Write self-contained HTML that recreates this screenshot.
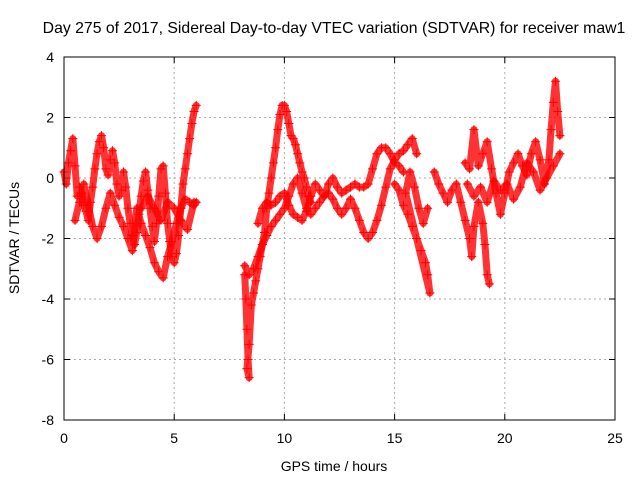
<!DOCTYPE html>
<html><head><meta charset="utf-8"><style>
body{margin:0;background:#fff}
svg text{font-family:"Liberation Sans",sans-serif;font-size:14px;fill:#000}
</style></head><body>
<svg id="c" width="640" height="480">
<text x="334" y="33" text-anchor="middle" style="font-size:15.8px">Day 275 of 2017, Sidereal Day-to-day VTEC variation (SDTVAR) for receiver maw1</text>
<text x="334" y="471" text-anchor="middle">GPS time / hours</text>
<text transform="translate(19,238) rotate(-90)" text-anchor="middle">SDTVAR / TECUs</text>
<g id="grid"></g><g id="marks"></g>
<rect x="64" y="57" width="551" height="363" fill="none" stroke="#000" stroke-width="1"/>
</svg>
<script>
const xTicks=[0,5,10,15,20,25];
const yTicks=[4,2,0,-2,-4,-6,-8];
const tA=[0,.1,.2,.3,.4,.5,.6,.7,.8,.9,1,1.1,1.2,1.3,1.4,1.5,1.6,1.7,1.8,1.9,2,2.1,2.2,2.3,2.4,2.5,2.6,2.7,2.8,2.9,3,3.1,3.2,3.3,3.4,3.5,3.6,3.7,3.8,3.9,4,4.1,4.2,4.3,4.4,4.5,4.6,4.7,4.8,4.9,5,5.1,5.2,5.3,5.4,5.5,5.6,5.7,5.8,5.9,6];
const vA=[.2,-.2,.5,.9,1.3,.4,-.6,-.3,-.5,-.9,-1.1,-1.4,-.8,-.3,.3,.8,1.2,1.4,1,.3,.1,.6,.9,.5,-.2,-.6,-.4,.2,-.3,-1,-1.5,-1.9,-2.2,-1.8,-1.2,-.6,-.1,.2,-.4,-1,-1.6,-2.1,-1.5,-.6,.3,.4,-.5,-1.5,-2.1,-2.6,-2.8,-2.5,-1.9,-1,-.2,.3,.8,1.3,1.8,2.2,2.4];
const tB=[.5,.7,.9,1.1,1.3,1.5,1.7,1.9,2.1,2.3,2.5,2.7,2.9,3.1,3.3,3.5,3.7,3.9,4.1,4.3,4.5,4.7,4.9,5.1,5.3,5.5,5.7,5.9,6];
const vB=[-1.4,-.8,-.2,-.9,-1.6,-2,-1.6,-1,-.5,-.9,-1.3,-1.6,-2,-2.4,-1,-1.5,-1.9,-2.3,-2.8,-3.1,-3.3,-2.6,-2.1,-1.5,-1,-.7,-.8,-.9,-.8];
const tC=[3.5,3.8,4.1,4.4,4.7,5,5.3,5.6,5.9];
const vC=[-1,-.6,-1,-1.4,-.8,-1,-1.4,-1.7,-.8];
const tD=[8.2,8.25,8.3,8.35,8.4,8.3,8.4,8.5,8.6,8.7,8.8,8.9,9,9.1,9.2,9.3,9.4,9.5,9.6,9.7,9.8,9.9,10,10.1,10.2,10.3,10.4,10.5,10.6,10.7,10.8,10.9,11,11.1,11.2];
const vD=[-3.2,-4,-5,-6,-6.6,-6.3,-5.5,-4.2,-3.8,-3.4,-3,-2.6,-2.2,-1.8,-1,-.5,0,.5,1,1.6,2.1,2.4,2.4,2.2,1.8,1.4,1.3,1.1,.8,.5,.2,0,-.3,-.6,-.8];
const tE=[8.2,8.4,8.6,8.8,9,9.2,9.4,9.6,9.8,10,10.2,10.4,10.6,10.8,11,11.2,11.4,11.6,11.8,12,12.2,12.4,12.6,12.8,13,13.2,13.4,13.6,13.8,14,14.2,14.4,14.6,14.8,15,15.2,15.4,15.6,15.8,16];
const vE=[-2.9,-3.2,-3,-2.6,-2.2,-1.9,-1.6,-1.4,-1.2,-1,-.6,-.2,0,-.5,-1,-1.2,-1,-.8,-.6,-.5,-.7,-1,-1.2,-1,-.7,-1,-1.4,-1.8,-2,-1.8,-1.4,-.9,-.3,.3,.6,.8,.9,1.1,1.3,.8];
const tF=[8.8,9,9.2,9.4,9.6,9.8,10,10.2,10.4,10.6,10.8,11,11.2,11.4,11.6,11.8,12,12.2,12.4,12.6,12.8,13,13.2,13.4,13.6,13.8,14,14.2,14.4,14.6,14.8,15,15.2,15.4];
const vF=[-1.5,-1,-.8,-.9,-.8,-.6,-.5,-.9,-1.2,-1.3,-1.4,-1.1,-.6,-.2,-.4,-.6,-.2,0,-.3,-.5,-.4,-.3,-.2,-.3,-.3,-.2,.3,.8,1,1,.8,.5,.4,.2];
const tG=[15,15.2,15.4,15.6,15.8,16,16.2,16.4,16.5,16.6,15.5,15.7,15.9,16.1,16.3,16.5];
const vG=[-.2,-.4,-.9,-1.2,-1.6,-2,-2.4,-2.8,-3.2,-3.8,-.5,.2,-.3,-1,-1.5,-1];
const tH=[16.8,17,17.2,17.4,17.6,17.8,18,18.2,18.4,18.5,18.6,18.8,19,19.1,19.2,19.3];
const vH=[.2,-.2,-.5,-.8,-.4,-.2,-.8,-1.4,-2,-2.6,-1.6,-.8,-1.5,-2.2,-3.2,-3.5];
const tI=[18.2,18.4,18.6,18.8,19,19.2,19.4,19.6,19.8,20,20.2,20.4,20.6,20.8,21,21.2,21.4,21.6,21.8,22,22.1,22.2,22.3,22.4,22.5];
const vI=[.5,.3,1.6,.4,.8,1.2,.3,-.5,-1.2,-.5,.2,.5,.8,.4,.1,.8,1.2,.6,-.2,.6,1.6,2.5,3.2,2.2,1.4];
const tJ=[18.3,18.6,18.9,19.2,19.5,19.8,20.1,20.4,20.7,21,21.3,21.6,21.9,22.2,22.5];
const vJ=[-.2,-.6,-.3,-.8,-.1,-.4,-.2,-.7,-.3,.5,.2,-.4,0,.4,.8];
const series=[[tA,vA],[tB,vB],[tC,vC],[tD,vD],[tE,vE],[tF,vF],[tG,vG],[tH,vH],[tI,vI],[tJ,vJ]];
const X=t=>64+t*551/25, Y=v=>57+(4-v)*363/12;
const NS="http://www.w3.org/2000/svg";
const grid=document.getElementById('grid'), marks=document.getElementById('marks');
function mk(tag,a,p){const e=document.createElementNS(NS,tag);for(const k in a)e.setAttribute(k,a[k]);p.appendChild(e);return e;}
xTicks.forEach(t=>{
 if(t>0&&t<25){const l=mk('line',{x1:X(t),x2:X(t),y1:57,y2:420,stroke:'#aaa','stroke-dasharray':'2,3'},grid);
 
 }
 mk('line',{x1:X(t),x2:X(t),y1:420,y2:414,stroke:'#000'},grid);
 mk('line',{x1:X(t),x2:X(t),y1:57,y2:63,stroke:'#000'},grid);
 const tx=mk('text',{x:X(t),y:443,'text-anchor':'middle'},grid);tx.textContent=t;
 
 
});
yTicks.forEach(v=>{
 if(v<4&&v>-8){const l=mk('line',{x1:64,x2:615,y1:Y(v),y2:Y(v),stroke:'#aaa','stroke-dasharray':'2,3'},grid);
 
 }
 mk('line',{x1:64,x2:70,y1:Y(v),y2:Y(v),stroke:'#000'},grid);
 mk('line',{x1:609,x2:615,y1:Y(v),y2:Y(v),stroke:'#000'},grid);
 const tx=mk('text',{x:54,y:Y(v)+5,'text-anchor':'end'},grid);tx.textContent=v;
 
 
});
series.forEach(([ts,vs],si)=>{
 let d='';
 ts.forEach((t,i)=>{d+=(i?'L':'M')+X(t)+','+Y(vs[i]);});
 const pl=mk('path',{d:d,fill:'none',stroke:'#f00','stroke-width':7,'stroke-linejoin':'round','stroke-linecap':'round',opacity:.8},marks);
 
 
 ts.forEach((t,i)=>{const x=X(t),y=Y(vs[i]);
  const p=mk('path',{d:`M${x-4.5},${y}H${x+4.5}M${x},${y-4.5}V${y+4.5}`,stroke:'#f00','stroke-width':1},marks);
  
  
 });
});
</script>
</body></html>
